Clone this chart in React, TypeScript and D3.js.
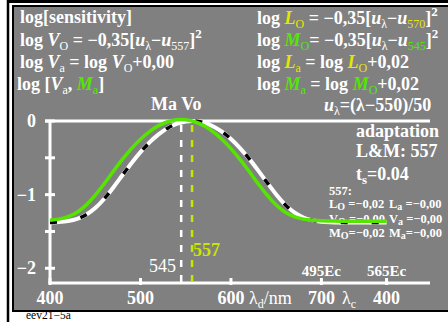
import React from "react";
import * as d3 from "d3";

const lambdaV = [400,410,420,430,440,450,460,470,480,490,500,510,520,530,540,550,557,560,570,580,590,600,610,620,630,640,650,660,670,680,690,700,710,720,772];
const logV = [-1.377,-1.371,-1.357,-1.328,-1.273,-1.183,-1.056,-0.902,-0.737,-0.573,-0.423,-0.291,-0.182,-0.097,-0.039,-0.007,0,-0.001,-0.023,-0.071,-0.145,-0.244,-0.367,-0.511,-0.670,-0.837,-0.997,-1.136,-1.242,-1.310,-1.348,-1.367,-1.375,-1.378,-1.380];
const lambdaM = [400,410,420,430,440,450,460,470,480,490,500,510,520,530,540,545,550,560,570,580,590,600,610,620,630,640,650,660,670,680,690,700,710,720,772];
const logM = [-1.349,-1.333,-1.300,-1.238,-1.141,-1.007,-0.850,-0.683,-0.522,-0.375,-0.247,-0.143,-0.063,-0.010,0.017,0.020,0.017,-0.010,-0.063,-0.143,-0.247,-0.375,-0.522,-0.683,-0.850,-1.007,-1.141,-1.238,-1.300,-1.333,-1.349,-1.356,-1.358,-1.360,-1.360];
const xTickValues = [400, 500, 600, 700, 772];
const xTickLabels = ["400", "500", "600", "700", "400"];
const yTickValues = [0, -0.5, -1, -1.5, -2];
const yLabelValues = [0, -1, -2];
const yLabels = ["0", "−1", "−2"];
const markV = 557;
const markM = 545;

const W = 448, H = 322;
const YEL = "#e6e600";
const YG = "#c8e600";
const GRN = "#55e600";

export default function App() {
  const x = d3.scaleLinear().domain([400, 820]).range([50, 430]);
  const y = d3.scaleLinear().domain([-2.2, 0]).range([283, 121]);
  const line = d3.line<[number, number]>().x(d => x(d[0])).y(d => y(d[1])).curve(d3.curveMonotoneX);
  const vPath = line(lambdaV.map((l, i) => [l, logV[i]] as [number, number])) || "";
  const mPath = line(lambdaM.map((l, i) => [l, logM[i]] as [number, number])) || "";
  const font = "'Liberation Serif', 'Times New Roman', serif";
  const sub = { fontSize: 12, fontWeight: "normal" as const };
  return (
    <svg width={W} height={H} style={{ position: "fixed", left: 0, top: 0, background: "#fff" }} fontFamily={font}>
      <line x1={8} y1={0} x2={8} y2={H} stroke="#000" strokeWidth={2.5} />
      <line x1={7} y1={1.5} x2={W} y2={1.5} stroke="#000" strokeWidth={3} />
      <rect x={13} y={6} width={445} height={305} fill="#808080" stroke="#000" strokeWidth={2} />
      <text x={26} y={319} fontSize={11.5} fill="#000">eev21−5a</text>

      <g fill="#fff" fontWeight="bold" fontSize={18}>
        <text x={20} y={23}>log[sensitivity]</text>
        <text x={20} y={45.5}>log <tspan fontStyle="italic">V</tspan><tspan {...sub} dy={4}>O</tspan><tspan dy={-4}> = −0,35[</tspan><tspan fontStyle="italic">u</tspan><tspan {...sub} dy={4}>λ</tspan><tspan dy={-4}>−</tspan><tspan fontStyle="italic">u</tspan><tspan {...sub} dy={4}>557</tspan><tspan dy={-4}>]</tspan><tspan fontSize={13} dy={-8}>2</tspan></text>
        <text x={20} y={67.5}>log <tspan fontStyle="italic">V</tspan><tspan {...sub} dy={4}>a</tspan><tspan dy={-4}> = log </tspan><tspan fontStyle="italic">V</tspan><tspan {...sub} dy={4}>O</tspan><tspan dy={-4}>+0,00</tspan></text>
        <text x={17} y={89.5}>log [<tspan fontStyle="italic">V</tspan><tspan {...sub} dy={4}>a</tspan><tspan dy={-4}>, </tspan><tspan fontStyle="italic" fill={GRN}>M</tspan><tspan {...sub} fill={GRN} dy={4}>a</tspan><tspan dy={-4}>]</tspan></text>

        <text x={257} y={24}>log <tspan fontStyle="italic" fill={YEL}>L</tspan><tspan {...sub} fill={YEL} dy={4}>O</tspan><tspan dy={-4}> = −0,35[</tspan><tspan fontStyle="italic">u</tspan><tspan {...sub} dy={4}>λ</tspan><tspan dy={-4}>−</tspan><tspan fontStyle="italic">u</tspan><tspan {...sub} fill={YEL} dy={4}>570</tspan><tspan dy={-4}>]</tspan><tspan fontSize={13} dy={-8}>2</tspan></text>
        <text x={257} y={46}>log <tspan fontStyle="italic" fill={GRN}>M</tspan><tspan {...sub} fill={GRN} dy={4}>O</tspan><tspan dy={-4}>= −0,35[</tspan><tspan fontStyle="italic">u</tspan><tspan {...sub} dy={4}>λ</tspan><tspan dy={-4}>−</tspan><tspan fontStyle="italic">u</tspan><tspan {...sub} fill={GRN} dy={4}>545</tspan><tspan dy={-4}>]</tspan><tspan fontSize={13} dy={-8}>2</tspan></text>
        <text x={257} y={68}>log <tspan fontStyle="italic" fill={YEL}>L</tspan><tspan {...sub} fill={YEL} dy={4}>a</tspan><tspan dy={-4}> = log </tspan><tspan fontStyle="italic" fill={YEL}>L</tspan><tspan {...sub} fill={YEL} dy={4}>O</tspan><tspan dy={-4}>+0,02</tspan></text>
        <text x={257} y={90}>log <tspan fontStyle="italic" fill={GRN}>M</tspan><tspan {...sub} fill={GRN} dy={4}>a</tspan><tspan dy={-4}> = log </tspan><tspan fontStyle="italic" fill={GRN}>M</tspan><tspan {...sub} fill={GRN} dy={4}>O</tspan><tspan dy={-4}>+0,02</tspan></text>
        <text x={324} y={111}><tspan fontStyle="italic">u</tspan><tspan {...sub} dy={4}>λ</tspan><tspan dy={-4}>=(λ−550)/50</tspan></text>

        <text x={151} y={110}>Ma Vo</text>
        <text x={356} y={137}>adaptation</text>
        <text x={356} y={157}>L&amp;M: 557</text>
        <text x={356} y={180}>t<tspan fontSize={13} dy={4}>s</tspan><tspan dy={-4}>=0.04</tspan></text>
      </g>

      <g fill="#fff" fontWeight="bold" fontSize={12.5}>
        <text x={329} y={195}>557:</text>
        <text x={329} y={208}>L<tspan fontSize={10} dy={2}>O</tspan><tspan dy={-2}> =−0,02</tspan></text>
        <text x={389} y={208}>L<tspan fontSize={10} dy={2}>a</tspan><tspan dy={-2}> =−0,00</tspan></text>
        <text x={329} y={223}>V<tspan fontSize={10} dy={2}>O</tspan><tspan dy={-2}> =−0,00</tspan></text>
        <text x={389} y={223}>V<tspan fontSize={10} dy={2}>a</tspan><tspan dy={-2}> =−0,00</tspan></text>
        <text x={329} y={237}>M<tspan fontSize={10} dy={2}>O</tspan><tspan dy={-2}>=−0,02</tspan></text>
        <text x={389} y={237}>M<tspan fontSize={10} dy={2}>a</tspan><tspan dy={-2}>=−0,00</tspan></text>
      </g>

      {/* axes */}
      <g stroke="#fff" strokeWidth={3}>
        <line x1={x(400)} y1={y(0)} x2={x(400)} y2={y(-2.2)} />
        <line x1={x(400) - 1.5} y1={y(-2.2)} x2={x(820)} y2={y(-2.2)} />
        <line x1={45} y1={y(0)} x2={x(820)} y2={y(0)} />
        {yTickValues.map(v => <line key={v} x1={45} x2={55} y1={y(v)} y2={y(v)} />)}
        {xTickValues.map(v => <line key={v} x1={x(v)} x2={x(v)} y1={278} y2={285} />)}
      </g>
      <g fill="#fff" fontWeight="bold" fontSize={18}>
        {yLabelValues.map((v, i) => <text key={v} x={36} y={y(v) + 6} textAnchor="end">{yLabels[i]}</text>)}
        {xTickValues.map((v, i) => <text key={v} x={x(v)} y={304} textAnchor="middle">{xTickLabels[i]}</text>)}
        <text x={249} y={304} fontWeight="normal">λ<tspan fontSize={12} dy={4}>d</tspan><tspan dy={-4}>/nm</tspan></text>
        <text x={342} y={304} fontWeight="normal">λ<tspan fontSize={12} dy={4}>c</tspan></text>
        <text x={x(700)} y={276} fontSize={15} textAnchor="middle">495Ec</text>
        <text x={x(772)} y={276} fontSize={15} textAnchor="middle">565Ec</text>
        <text x={176} y={271.5} textAnchor="end" fontWeight="normal">545</text>
        <text x={193} y={256} fill={YG}>557</text>
      </g>

      {/* marker lines */}
      <line x1={x(markM)} x2={x(markM)} y1={y(0)} y2={y(-2.2)} stroke="#fff" strokeWidth={2.5} strokeDasharray="7 8" strokeDashoffset={-4} />
      <line x1={x(markV)} x2={x(markV)} y1={y(0)} y2={y(-2.2)} stroke={YG} strokeWidth={2.5} strokeDasharray="7 8" strokeDashoffset={-4} />

      {/* curves */}
      <path d={vPath} fill="none" stroke="#fff" strokeWidth={4} />
      <path d={vPath} fill="none" stroke="#000" strokeWidth={3.5} strokeDasharray="7 24" />
      <path d={mPath} fill="none" stroke={GRN} strokeWidth={3.5} />
    </svg>
  );
}
